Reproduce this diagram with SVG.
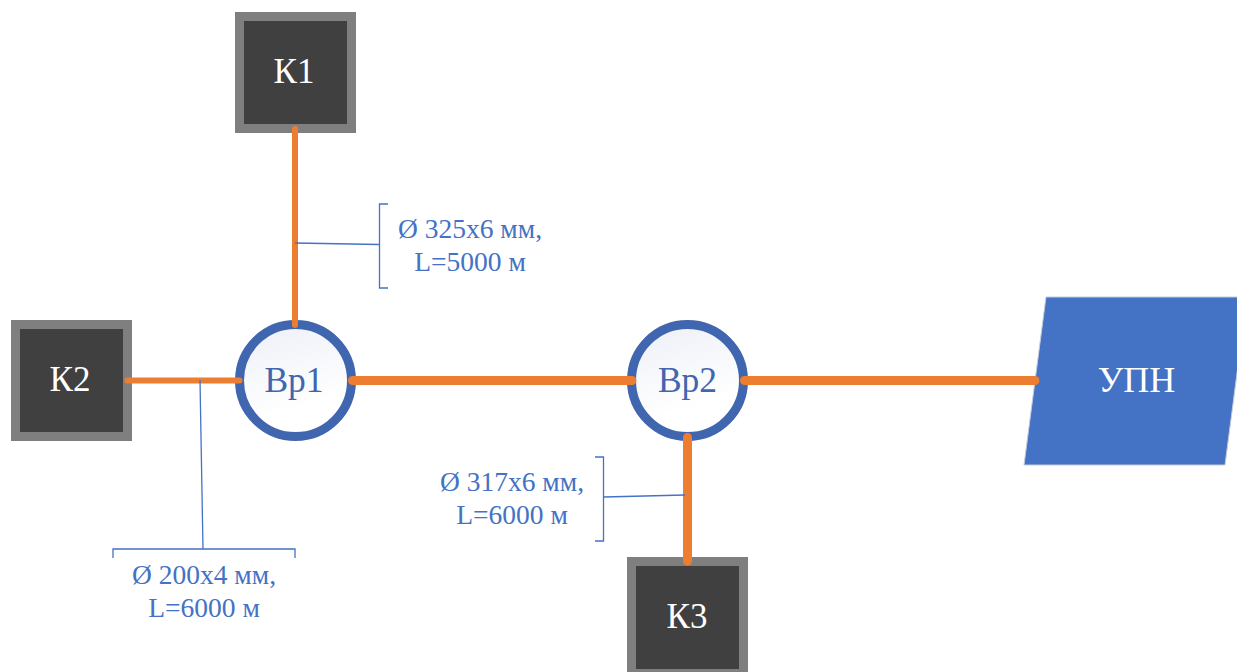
<svg xmlns="http://www.w3.org/2000/svg" width="1237" height="672" viewBox="0 0 1237 672">
<style>
text{font-family:"Liberation Serif","Times New Roman",serif;text-anchor:middle}
.sq{fill:#404040;stroke:#7f7f7f;stroke-width:9}
.sn{fill:#fff;font-size:35px}
.cn{fill:#3f66ae;font-size:35.500px}
.c{fill:url(#g);stroke:#3f66ae;stroke-width:9}
.p{stroke:#ed7d31;stroke-linecap:round;fill:none}
.l{stroke:#4472c4;stroke-width:1.3;fill:none}
.t{fill:#4472c4;font-size:27.500px}
</style>
<defs>
<linearGradient id="g" x1="0.3" y1="0" x2="0.6" y2="1"><stop offset="0" stop-color="#eef1f8"/><stop offset="0.75" stop-color="#ffffff"/></linearGradient>
</defs>
<g id="K1"><rect class="sq" x="239.5" y="16.5" width="112" height="112"/><text class="sn" x="294" y="83">К1</text></g>
<g id="K2"><rect class="sq" x="15.5" y="324.5" width="112" height="112"/><text class="sn" x="70" y="391">К2</text></g>
<g id="K3"><rect class="sq" x="631.5" y="561.5" width="112" height="112"/><text class="sn" x="687" y="628">К3</text></g>
<g id="Vr1"><circle class="c" cx="295.5" cy="380.500" r="56"/><text class="cn" x="294" y="392">Вр1</text></g>
<g id="Vr2"><circle class="c" cx="687.5" cy="380.500" r="56"/><text class="cn" x="687.5" y="392">Вр2</text></g>
<g id="UPN"><polygon points="1046,297 1247,297 1225,465 1024,465" fill="#4472c4" stroke="#c5cbd6" stroke-width="1"/><text class="sn" x="1136.500" y="392" style="font-size:36px">УПН</text></g>
<g id="connectors">
<path class="p" stroke-width="6" d="M295 129V325"/>
<path class="p" stroke-width="6" d="M127.500 380.500H239.500"/>
<path class="p" stroke-width="9" d="M352.500 380.500H632"/>
<path class="p" stroke-width="9" d="M744.500 380.500H1035"/>
<path class="p" stroke-width="9" d="M687.500 437.500V561"/>
<path class="l" d="M295 243L379 244.500"/>
<path class="l" d="M388 204H379.500V288H388"/>
<path class="l" d="M200 380L203 549"/>
<path class="l" d="M113 558V549H295V558"/>
<path class="l" d="M604 497L685 495"/>
<path class="l" d="M595 457H603.500V541H595"/>
</g>
<g id="labels">
<text class="t" x="470" y="238">Ø 325х6 мм,</text>
<text class="t" x="470" y="271">L=5000 м</text>
<text class="t" x="204" y="584">Ø 200х4 мм,</text>
<text class="t" x="204" y="617">L=6000 м</text>
<text class="t" x="512" y="491">Ø 317х6 мм,</text>
<text class="t" x="512" y="524">L=6000 м</text>
</g>
</svg>
